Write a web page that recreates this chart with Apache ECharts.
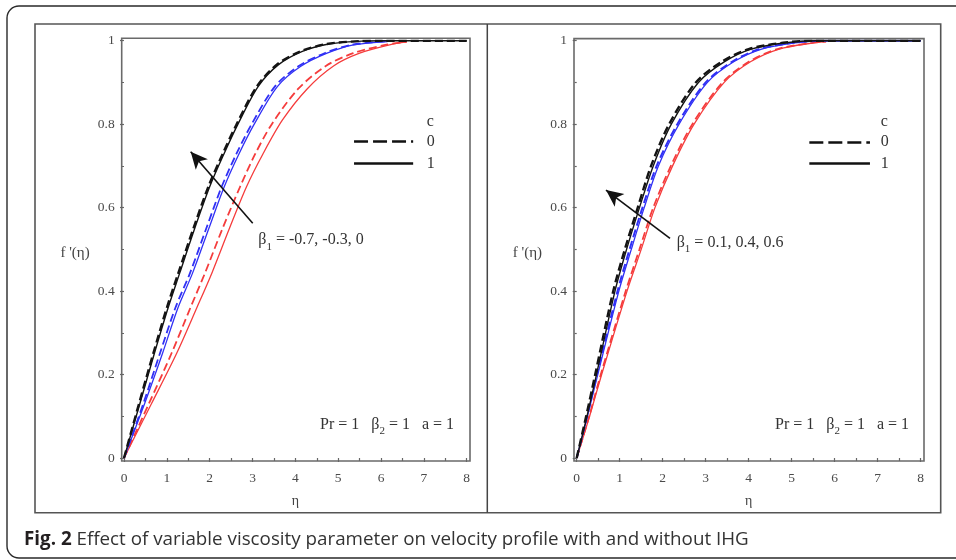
<!DOCTYPE html>
<html><head><meta charset="utf-8">
<script src="https://cdn.jsdelivr.net/npm/echarts@6/dist/echarts.min.js"></script>
<style>html,body{margin:0;padding:0;background:#fff}#c{width:956px;height:560px}</style>
</head><body><div id="c"></div>
<script>
// ---------- tick labels / texts ----------
const xTickLabels = ['0','1','2','3','4','5','6','7','8'];
const yTickLabels = ['0','0.2','0.4','0.6','0.8','1'];
const legendTitle = 'c';
const legendLabels = ['0','1'];
const leftBetaValues = '-0.7, -0.3, 0';
const rightBetaValues = '0.1, 0.4, 0.6';
const captionBold = 'Fig. 2';
const captionText = ' Effect of variable viscosity parameter on velocity profile with and without IHG';

// ---------- left panel curves [eta, f'] ----------
const L_black_c0 = [[0,0],[0.35,0.13],[0.685,0.251],[1.0,0.36],[1.268,0.443],[1.62,0.55],[1.969,0.65],[2.3,0.728],[2.63,0.80],[3.1,0.89],[3.56,0.942],[4.11,0.974],[4.73,0.992],[5.5,0.999],[6.0,1],[8,1]];
const L_black_c1 = [[0,0],[0.37,0.13],[0.71,0.251],[1.03,0.36],[1.30,0.443],[1.65,0.55],[2.0,0.65],[2.33,0.728],[2.66,0.80],[3.13,0.89],[3.6,0.942],[4.15,0.974],[4.78,0.992],[5.55,0.999],[6.05,1],[8,1]];
const L_blue_c0 = [[0,0],[0.45,0.13],[0.84,0.251],[1.2,0.36],[1.54,0.443],[1.92,0.55],[2.28,0.65],[2.62,0.728],[2.98,0.80],[3.52,0.89],[4.06,0.938],[4.68,0.97],[5.3,0.99],[6.15,0.999]];
const L_blue_c1 = [[0,0],[0.48,0.13],[0.9,0.251],[1.26,0.36],[1.6,0.443],[1.98,0.55],[2.34,0.65],[2.68,0.728],[3.04,0.80],[3.58,0.89],[4.12,0.938],[4.74,0.97],[5.36,0.99],[6.15,0.998]];
const L_red_c0 = [[0,0],[0.58,0.13],[1.11,0.251],[1.55,0.36],[1.89,0.443],[2.3,0.55],[2.71,0.65],[3.06,0.728],[3.45,0.80],[4.07,0.885],[4.72,0.94],[5.35,0.97],[6.1,0.99],[6.6,0.997]];
const L_red_c1 = [[0,0],[0.64,0.13],[1.23,0.251],[1.7,0.36],[2.05,0.443],[2.46,0.55],[2.86,0.65],[3.24,0.728],[3.7,0.81],[4.28,0.885],[4.9,0.94],[5.5,0.97],[6.2,0.99],[6.6,0.997]];

// ---------- right panel curves [eta, f'] ----------
const R_black_c0 = [[0,0],[0.22,0.1],[0.43,0.2],[0.85,0.4],[1.12,0.5],[1.42,0.6],[1.73,0.7],[2.15,0.8],[2.77,0.9],[3.38,0.95],[4.0,0.98],[4.8,0.995],[5.5,1],[8,1]];
const R_black_c1 = [[0,0],[0.24,0.1],[0.46,0.2],[0.89,0.4],[1.16,0.5],[1.46,0.6],[1.78,0.7],[2.2,0.8],[2.83,0.9],[3.44,0.95],[4.06,0.98],[4.86,0.995],[5.55,1],[8,1]];
const R_blue_c0 = [[0,0],[0.24,0.1],[0.47,0.2],[0.95,0.4],[1.23,0.5],[1.53,0.6],[1.86,0.7],[2.34,0.8],[3.0,0.9],[3.62,0.95],[4.25,0.98],[5.03,0.995],[5.8,1],[8,1]];
const R_blue_c1 = [[0,0],[0.25,0.1],[0.49,0.2],[0.98,0.4],[1.27,0.5],[1.57,0.6],[1.9,0.7],[2.38,0.8],[3.04,0.9],[3.66,0.95],[4.3,0.98],[5.08,0.995],[5.85,1],[8,1]];
const R_red_c0 = [[0,0],[0.29,0.1],[0.56,0.2],[1.14,0.4],[1.46,0.5],[1.78,0.6],[2.19,0.7],[2.69,0.8],[3.39,0.9],[4.01,0.95],[4.67,0.98],[5.48,0.995],[5.8,0.998]];
const R_red_c1 = [[0,0],[0.3,0.1],[0.58,0.2],[1.17,0.4],[1.5,0.5],[1.82,0.6],[2.23,0.7],[2.73,0.8],[3.43,0.9],[4.05,0.95],[4.71,0.98],[5.52,0.995],[5.8,0.998]];

// ---------- styling / layout ----------
const SERIF = '"Liberation Serif", "DejaVu Serif", serif';
const SANS = '"Open Sans", "Noto Sans", sans-serif';
const COL = {black:'#141414', blue:'#3030f5', red:'#f53c3c'};
const DASH = [8,4];

const chart = echarts.init(document.getElementById('c'), null, {renderer:'canvas'});

function dataGrid(left, top, width, height){ return {left, top, width, height, show:false, containLabel:false}; }
function frameGrid(left, top, width, height){ return {left, top, width, height, show:true, borderColor:'#6a6a6a', borderWidth:1.6, backgroundColor:'transparent'}; }

function xAxisData(gi){
  return {type:'value', gridIndex:gi, min:0, max:8, interval:1, offset:3,
    axisLine:{show:false}, splitLine:{show:false},
    axisTick:{show:true, length:4, lineStyle:{color:'#666', width:1.2}},
    minorTick:{show:true, splitNumber:2, length:3, lineStyle:{color:'#666', width:1.2}},
    axisLabel:{margin:10, color:'#4a4a4a', fontFamily:SERIF, fontSize:13.5,
      formatter:(v)=>xTickLabels[Math.round(v)]},
    name:'η', nameLocation:'middle', nameGap:33,
    nameTextStyle:{fontFamily:SERIF, fontSize:14, color:'#444'}};
}
function yAxisData(gi, off){
  return {type:'value', gridIndex:gi, min:0, max:1, interval:0.2, offset:off,
    axisLine:{show:false}, splitLine:{show:false},
    axisTick:{show:true, length:4, lineStyle:{color:'#666', width:1.2}},
    minorTick:{show:true, splitNumber:2, length:2, lineStyle:{color:'#666', width:1.2}},
    axisLabel:{margin:7, color:'#4a4a4a', fontFamily:SERIF, fontSize:13.5,
      formatter:(v)=>yTickLabels[Math.round(v/0.2)]},
    name:"f '(η)", nameLocation:'middle', nameGap:32, nameRotate:0,
    nameTextStyle:{fontFamily:SERIF, fontSize:15, color:'#444', verticalAlign:'top', lineHeight:8}};
}
function hiddenAxis(gi){ return {type:'value', gridIndex:gi, show:false, min:0, max:1}; }

function curve(data, color, dashed, width, gi, z){
  return {type:'line', data, xAxisIndex:gi, yAxisIndex:gi, symbol:'none', showSymbol:false,
    smooth:0.3, silent:true, animation:false, z,
    lineStyle:{color, width, type: dashed ? DASH : 'solid'}};
}

const richTxt = {
  t:{fontFamily:SERIF, fontSize:16, color:'#333', lineHeight:24},
  b:{fontFamily:SERIF, fontSize:16, color:'#333', lineHeight:24},
  s:{fontFamily:SERIF, fontSize:11, color:'#333', lineHeight:11, verticalAlign:'bottom'}
};

function annotations(gi, cfg){
  const label = (coord, text)=>({coord, symbol:'circle', symbolSize:0,
    label:{show:true, position:'right', distance:0, formatter:text, rich:richTxt}});
  return {type:'line', data:[], xAxisIndex:gi, yAxisIndex:gi, silent:true, animation:false, z:10,
    markLine:{silent:true, animation:false, label:{show:false}, emphasis:{disabled:true},
      data:[
        [{coord:cfg.arrowTail, symbol:'none'}, {coord:cfg.arrowTip, symbol:'arrow', symbolSize:[12,17]}],
        [{coord:cfg.leg0[0], symbol:'none', lineStyle:{color:'#111', width:2.6, type:[14,5]}}, {coord:cfg.leg0[1], symbol:'none'}],
        [{coord:cfg.leg1[0], symbol:'none', lineStyle:{color:'#111', width:2.6, type:'solid'}}, {coord:cfg.leg1[1], symbol:'none'}]
      ],
      lineStyle:{color:'#111', width:1.6, type:'solid'}},
    markPoint:{silent:true, animation:false, data:[
      label(cfg.cPos, '{t|'+legendTitle+'}'),
      label(cfg.l0Pos, '{t|'+legendLabels[0]+'}'),
      label(cfg.l1Pos, '{t|'+legendLabels[1]+'}'),
      label(cfg.betaPos, '{b|β}{s|1}{t| = '+cfg.beta+'}'),
      label(cfg.parPos, '{t|Pr = 1   }{b|β}{s|2}{t| = 1   a = 1}')
    ]}};
}

const leftCfg = {arrowTail:[3.005,0.5625], arrowTip:[1.557,0.734],
  leg0:[[5.37,0.758],[6.75,0.758]], leg1:[[5.37,0.706],[6.75,0.706]],
  cPos:[7.07,0.806], l0Pos:[7.07,0.758], l1Pos:[7.07,0.706],
  betaPos:[3.136,0.522], beta:leftBetaValues, parPos:[4.576,0.079]};
const rightCfg = {arrowTail:[2.17,0.5265], arrowTip:[0.681,0.642],
  leg0:[[5.41,0.757],[6.82,0.757]], leg1:[[5.41,0.706],[6.82,0.706]],
  cPos:[7.07,0.806], l0Pos:[7.07,0.757], l1Pos:[7.07,0.706],
  betaPos:[2.326,0.516], beta:rightBetaValues, parPos:[4.612,0.079]};

const option = {
  backgroundColor:'#fff',
  animation:false,
  grid:[
    dataGrid(124, 40.7, 342.7, 417.3),
    dataGrid(576.7, 40.7, 344, 417.3),
    frameGrid(121.7, 38.3, 348.3, 422.7),
    frameGrid(574, 38.6, 350, 422.4)
  ],
  xAxis:[xAxisData(0), xAxisData(1), hiddenAxis(2), hiddenAxis(3)],
  yAxis:[yAxisData(0,2.3), yAxisData(1,2.7), hiddenAxis(2), hiddenAxis(3)],
  series:[
    curve(L_red_c1, COL.red, false, 1.3, 0, 2),
    curve(L_red_c0, COL.red, true, 1.8, 0, 2),
    curve(L_blue_c1, COL.blue, false, 1.3, 0, 3),
    curve(L_blue_c0, COL.blue, true, 1.8, 0, 3),
    curve(L_black_c1, COL.black, false, 1.4, 0, 4),
    curve(L_black_c0, COL.black, true, 2.4, 0, 4),
    curve(R_red_c1, COL.red, false, 1.3, 1, 2),
    curve(R_red_c0, COL.red, true, 1.8, 1, 2),
    curve(R_blue_c1, COL.blue, false, 1.3, 1, 3),
    curve(R_blue_c0, COL.blue, true, 2.0, 1, 3),
    curve(R_black_c1, COL.black, false, 1.4, 1, 4),
    curve(R_black_c0, COL.black, true, 2.4, 1, 4),
    annotations(0, leftCfg),
    annotations(1, rightCfg)
  ],
  graphic:[
    {type:'rect', silent:true, shape:{x:7, y:6, width:985, height:552, r:12}, style:{fill:'none', stroke:'#2a2a2a', lineWidth:1.4}},
    {type:'rect', silent:true, shape:{x:35, y:24, width:905.7, height:488.7}, style:{fill:'none', stroke:'#555', lineWidth:1.6}},
    {type:'line', silent:true, shape:{x1:487.3, y1:24, x2:487.3, y2:512.7}, style:{stroke:'#444', lineWidth:1.5}},
    {type:'text', silent:true, x:24, y:540, style:{
      text:'{fb|'+captionBold+'}{ft|'+captionText+'}', verticalAlign:'middle',
      rich:{fb:{fontFamily:SANS, fontWeight:'bold', fontSize:18.8, fill:'#231f20'},
            ft:{fontFamily:SANS, fontSize:18.8, fill:'#333'}}}}
  ]
};
chart.setOption(option);
</script>
</body></html>
